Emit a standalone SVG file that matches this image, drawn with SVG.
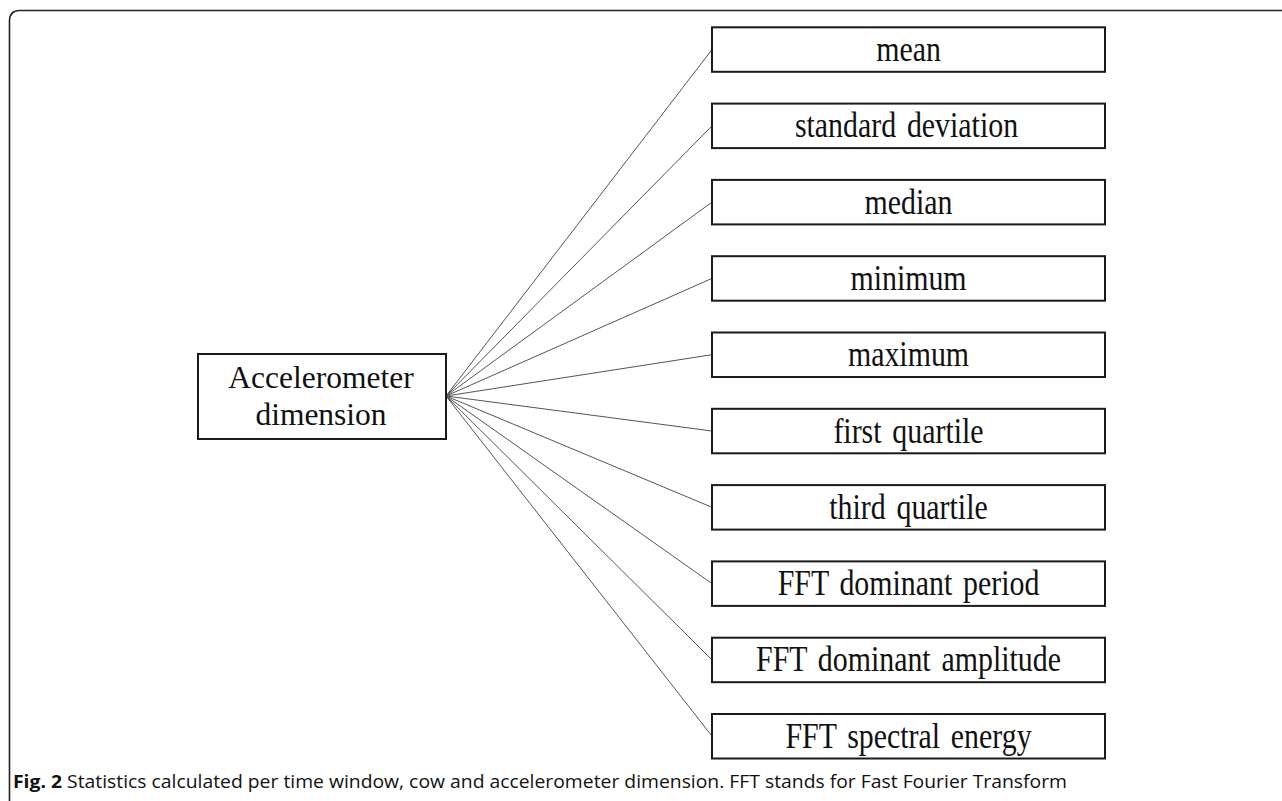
<svg xmlns="http://www.w3.org/2000/svg" width="1282" height="801" viewBox="0 0 1282 801">
<style>
.box{fill:#fff;stroke:#1a1a1a;stroke-width:2}
.lbl{font-family:"Liberation Serif","Times New Roman",serif;font-size:36px;word-spacing:4px;fill:#111;text-anchor:middle}
.acc{font-family:"Liberation Serif","Times New Roman",serif;font-size:31.5px;fill:#111;text-anchor:middle}
.con line{stroke:#555;stroke-width:1}
.cap{font-family:"Open Sans","Liberation Sans",sans-serif;font-size:17.5px;fill:#111}
</style>
<rect width="1282" height="801" fill="#fff"/>
<path d="M9.5,801 V21 Q9.5,10.5 20,10.5 H1282" fill="none" stroke="#222" stroke-width="1.6"/>
<g class="con">
<line x1="446" y1="396" x2="712" y2="49.5"/>
<line x1="446" y1="396" x2="712" y2="125.8"/>
<line x1="446" y1="396" x2="712" y2="202.1"/>
<line x1="446" y1="396" x2="712" y2="278.4"/>
<line x1="446" y1="396" x2="712" y2="354.7"/>
<line x1="446" y1="396" x2="712" y2="431"/>
<line x1="446" y1="396" x2="712" y2="507.3"/>
<line x1="446" y1="396" x2="712" y2="583.6"/>
<line x1="446" y1="396" x2="712" y2="659.9"/>
<line x1="446" y1="396" x2="712" y2="736.2"/>
</g>
<g id="accel"><rect class="box" x="198" y="354" width="248" height="85"/><text class="acc" x="321" y="388">Accelerometer</text><text class="acc" x="321" y="425">dimension</text></g>
<g id="n1"><rect class="box" x="712" y="27.3" width="393" height="44.5"/><text class="lbl" transform="translate(908.5,61) scale(0.83,1)">mean</text></g>
<g id="n2"><rect class="box" x="712" y="103.6" width="393" height="44.5"/><text class="lbl" transform="translate(906.5,137.3) scale(0.83,1)">standard deviation</text></g>
<g id="n3"><rect class="box" x="712" y="179.9" width="393" height="44.5"/><text class="lbl" transform="translate(908.5,213.6) scale(0.83,1)">median</text></g>
<g id="n4"><rect class="box" x="712" y="256.2" width="393" height="44.5"/><text class="lbl" transform="translate(908.5,289.9) scale(0.83,1)">minimum</text></g>
<g id="n5"><rect class="box" x="712" y="332.5" width="393" height="44.5"/><text class="lbl" transform="translate(908.5,366.2) scale(0.83,1)">maximum</text></g>
<g id="n6"><rect class="box" x="712" y="408.8" width="393" height="44.5"/><text class="lbl" transform="translate(908.5,442.5) scale(0.83,1)">first quartile</text></g>
<g id="n7"><rect class="box" x="712" y="485.1" width="393" height="44.5"/><text class="lbl" transform="translate(908.5,518.8) scale(0.83,1)">third quartile</text></g>
<g id="n8"><rect class="box" x="712" y="561.4" width="393" height="44.5"/><text class="lbl" transform="translate(908.5,595.1) scale(0.83,1)">FFT dominant period</text></g>
<g id="n9"><rect class="box" x="712" y="637.7" width="393" height="44.5"/><text class="lbl" transform="translate(908.5,671.4) scale(0.83,1)">FFT dominant amplitude</text></g>
<g id="n10"><rect class="box" x="712" y="714" width="393" height="44.5"/><text class="lbl" transform="translate(908.5,747.7) scale(0.83,1)">FFT spectral energy</text></g>
<text class="cap" x="13" y="788" textLength="1054" lengthAdjust="spacingAndGlyphs"><tspan font-weight="bold">Fig. 2</tspan> Statistics calculated per time window, cow and accelerometer dimension. FFT stands for Fast Fourier Transform</text>
</svg>
